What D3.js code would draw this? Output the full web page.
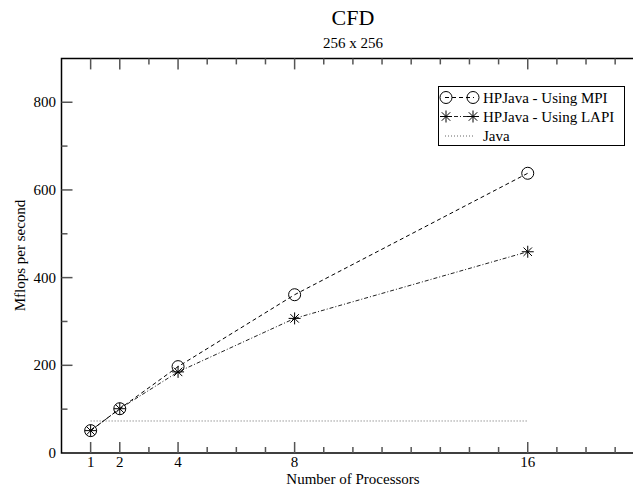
<!DOCTYPE html>
<html><head><meta charset="utf-8">
<script src="https://cdn.jsdelivr.net/npm/d3@7"></script>
<style>body{margin:0;background:#fff}svg{display:block}text{font-family:"Liberation Serif","Times New Roman",serif}</style>
</head><body><svg id="c" width="633" height="491"></svg>
<script>
const processors = [1, 2, 4, 8, 16];
const mpi = [51, 101, 197, 361, 638];
const lapi = [51, 101, 185, 307, 459];
const javaX = [1, 16];
const javaY = [73, 73];
const xMajor = [1, 2, 4, 8, 16];
const xMinor = d3.range(0, 21);
const yMajor = [0, 200, 400, 600, 800];
const yMinor = d3.range(0, 901, 100);
const legendNames = ["HPJava - Using MPI", "HPJava - Using LAPI", "Java"];

const svg = d3.select("#c");
const x = d3.scaleLinear().domain([0, 20]).range([61.5, 644.3]);
const y = d3.scaleLinear().domain([0, 900]).range([453, 58.4]);

// frame
svg.append("path").attr("d", `M${x(20)},${y(900)}H${x(0)}V${y(0)}H${x(20)}`)
  .attr("fill", "none").attr("stroke", "#000").attr("stroke-width", 1.5);

const tg = svg.append("g").attr("stroke", "#555").attr("stroke-width", 1.5);
xMinor.filter(v => v > 0 && v < 20).forEach(v => {
  const L = xMajor.includes(v) ? 11 : 6;
  tg.append("line").attr("x1", x(v)).attr("x2", x(v)).attr("y1", y(0)).attr("y2", y(0) - L);
  tg.append("line").attr("x1", x(v)).attr("x2", x(v)).attr("y1", y(900)).attr("y2", y(900) + L);
});
yMinor.filter(v => v > 0 && v < 900).forEach(v => {
  const L = yMajor.includes(v) ? 11 : 6;
  tg.append("line").attr("x1", x(0)).attr("x2", x(0) + L).attr("y1", y(v)).attr("y2", y(v));
});
svg.append("g").selectAll("text").data(xMajor).join("text")
  .attr("x", d => x(d)).attr("y", 467).attr("text-anchor", "middle")
  .attr("font-size", 15).text(d => d);
svg.append("g").selectAll("text").data(yMajor).join("text")
  .attr("x", 56).attr("y", d => y(d) + 5).attr("text-anchor", "end")
  .attr("font-size", 15).text(d => d);

svg.append("text").attr("x", 353).attr("y", 25).attr("text-anchor", "middle").attr("font-size", 22).text("CFD");
svg.append("text").attr("x", 353).attr("y", 48).attr("text-anchor", "middle").attr("font-size", 15).text("256 x 256");
svg.append("text").attr("x", 353).attr("y", 484).attr("text-anchor", "middle").attr("font-size", 15).text("Number of Processors");
svg.append("text").attr("transform", "translate(25,255.5) rotate(-90)").attr("text-anchor", "middle").attr("font-size", 15).text("Mflops per second");

const line = d3.line().x(d => x(d[0])).y(d => y(d[1]));
const styles = [
  {dash: "4,3", color: "#000"},
  {dash: "4,2,1,2", color: "#222"},
  {dash: "1,2", color: "#666"}
];
svg.append("path").datum(d3.zip(javaX, javaY)).attr("d", line)
  .attr("fill", "none").attr("stroke", styles[2].color).attr("stroke-width", 1).attr("stroke-dasharray", styles[2].dash);
svg.append("path").datum(d3.zip(processors, lapi)).attr("d", line)
  .attr("fill", "none").attr("stroke", styles[1].color).attr("stroke-width", 1).attr("stroke-dasharray", styles[1].dash);
svg.append("path").datum(d3.zip(processors, mpi)).attr("d", line)
  .attr("fill", "none").attr("stroke", styles[0].color).attr("stroke-width", 1).attr("stroke-dasharray", styles[0].dash);

function circleMark(g, cx, cy) {
  g.append("circle").attr("cx", cx).attr("cy", cy).attr("r", 6)
    .attr("fill", "none").attr("stroke", "#000").attr("stroke-width", 1);
}
function starMark(g, cx, cy) {
  const r = 6;
  [0, 45, 90, 135].forEach(a => {
    const t = a * Math.PI / 180;
    g.append("line").attr("x1", cx - r * Math.cos(t)).attr("y1", cy - r * Math.sin(t))
      .attr("x2", cx + r * Math.cos(t)).attr("y2", cy + r * Math.sin(t))
      .attr("stroke", "#000").attr("stroke-width", 1);
  });
}
const mg = svg.append("g");
processors.forEach((p, i) => circleMark(mg, x(p), y(mpi[i])));
processors.forEach((p, i) => starMark(mg, x(p), y(lapi[i])));

const lg = svg.append("g");
lg.append("rect").attr("x", 438.5).attr("y", 86.5).attr("width", 186).attr("height", 59)
  .attr("fill", "#fff").attr("stroke", "#000").attr("stroke-width", 1);
const rows = [97.5, 116.5, 136];
[0, 1, 2].forEach(i => {
  lg.append("line").attr("x1", 445).attr("x2", 474).attr("y1", rows[i]).attr("y2", rows[i])
    .attr("stroke", styles[i].color).attr("stroke-width", 1).attr("stroke-dasharray", styles[i].dash);
  lg.append("text").attr("x", 483).attr("y", rows[i] + 5).attr("font-size", 15).text(legendNames[i]);
});
circleMark(lg, 446, rows[0]); circleMark(lg, 473, rows[0]);
starMark(lg, 446, rows[1]); starMark(lg, 473, rows[1]);
</script></body></html>
